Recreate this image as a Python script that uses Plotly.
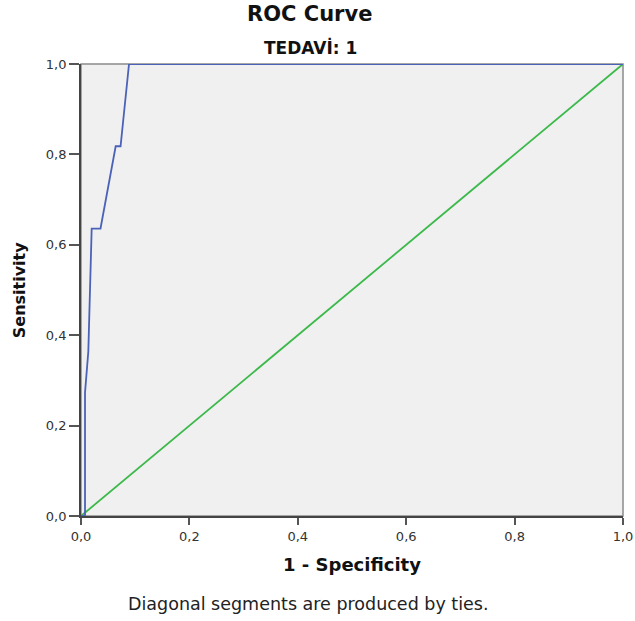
import plotly.graph_objects as go

# ROC curve points (1 - specificity, sensitivity)
fpr = [0.0, 0.0074, 0.0074, 0.0135, 0.0197, 0.036, 0.064, 0.073, 0.0886, 1.0]
tpr = [0.0, 0.0, 0.273, 0.364, 0.636, 0.636, 0.818, 0.818, 1.0, 1.0]
ref_x = [0.0, 1.0]
ref_y = [0.0, 1.0]
tick_vals = [0.0, 0.2, 0.4, 0.6, 0.8, 1.0]
tick_text = ["0,0", "0,2", "0,4", "0,6", "0,8", "1,0"]

FONT = "DejaVu Sans"

fig = go.Figure()
fig.add_trace(go.Scatter(x=ref_x, y=ref_y, mode="lines",
                         line=dict(color="#3cb94a", width=1.8), hoverinfo="skip"))
fig.add_trace(go.Scatter(x=fpr, y=tpr, mode="lines",
                         line=dict(color="#4a62b8", width=1.8)))

fig.add_shape(type="rect", xref="paper", yref="paper", x0=0, y0=0, x1=1, y1=1,
              line=dict(color="#8a8a8a", width=1.5), layer="below")

axis_common = dict(range=[0, 1], tickvals=tick_vals, ticktext=tick_text,
                   showgrid=False, zeroline=False, showline=True, automargin=False,
                   linecolor="#444444", linewidth=1.8, ticks="outside",
                   tickcolor="#555555", tickwidth=1.5,
                   tickfont=dict(family=FONT, size=13, color="#333333"))

fig.update_layout(
    width=635, height=621,
    margin=dict(l=81, r=12, t=64, b=105, autoexpand=False),
    paper_bgcolor="white", plot_bgcolor="#f0f0f0",
    showlegend=False,
    xaxis=dict(**axis_common, ticklen=7),
    yaxis=dict(**axis_common, ticklen=10),
    annotations=[
        dict(text="<b>ROC Curve</b>", xref="paper", yref="paper", x=0.4225, y=1.1106,
             xanchor="center", yanchor="middle", showarrow=False,
             font=dict(family=FONT, size=21, color="#111111")),
        dict(text="<b>TEDAVİ: 1</b>", xref="paper", yref="paper", x=0.424, y=1.036,
             xanchor="center", yanchor="middle", showarrow=False,
             font=dict(family=FONT, size=17, color="#111111")),
        dict(text="<b>1 - Specificity</b>", xref="paper", yref="paper", x=0.5, y=-0.108,
             xanchor="center", yanchor="middle", showarrow=False,
             font=dict(family=FONT, size=18, color="#111111")),
        dict(text="<b>Sensitivity</b>", xref="paper", yref="paper", x=-0.114, y=0.5,
             xanchor="center", yanchor="middle", showarrow=False, textangle=-90,
             font=dict(family=FONT, size=16, color="#111111")),
        dict(text="Diagonal segments are produced by ties.", xref="paper", yref="paper",
             x=0.42, y=-0.195, xanchor="center", yanchor="middle", showarrow=False,
             font=dict(family=FONT, size=17.5, color="#222222")),
    ],
)

fig.write_html("out.html", config={"displayModeBar": False},
               post_script="document.body.style.margin='0';")
